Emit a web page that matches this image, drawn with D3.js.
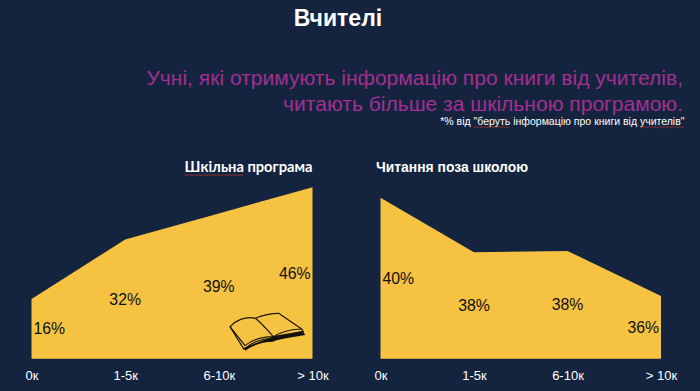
<!DOCTYPE html>
<meta charset="utf-8">
<style>

html, body {
  margin: 0;
  background: #14243f;
  overflow: hidden;
}

text {
  font-family: "Liberation Sans", Arial, sans-serif;
}

.axis text {
  font-size: 13px;
  fill: #fff;
}

</style>
<body>
<script src="https://d3js.org/d3.v7.js"></script>
<script>

var categories = ["0к", "1-5к", "6-10к", "> 10к"];

// what the school-programme area shows
var schoolValues = [16, 32, 39, 46];
var schoolLabels = ["16%", "32%", "39%", "46%"];

var outsideValues = [40, 38, 38.05, 36.4];
var outsideLabels = ["40%", "38%", "38%", "36%"];

var width = 700;
var height = 391;
var baseline = 358.7;

var svg = d3.select("body").append("svg")
    .attr("width", width)
    .attr("height", height)
    .style("display", "block");

svg.append("rect")
    .attr("width", width)
    .attr("height", height)
    .attr("fill", "#14243f");

svg.append("text")
    .attr("x", 338)
    .attr("y", 26)
    .attr("text-anchor", "middle")
    .attr("font-size", 23)
    .attr("font-weight", "bold")
    .attr("fill", "#fff")
    .text("Вчителі");

var subtitle = ["Учні, які отримують інформацію про книги від учителів,",
                "читають більше за шкільною програмою."];

svg.selectAll("text.subtitle")
    .data(subtitle)
  .enter().append("text")
    .attr("class", "subtitle")
    .attr("x", 683)
    .attr("y", (d, i) => 85 + i * 26)
    .attr("text-anchor", "end")
    .attr("font-size", 21.05)
    .attr("fill", "#a32f90")
    .text(d => d);

var note = svg.append("text")
    .attr("x", 684.5)
    .attr("y", 124.5)
    .attr("text-anchor", "end")
    .attr("font-size", 10.5)
    .attr("fill", "#fff");

note.append("tspan").text("*% від ");
var noteWord1 = note.append("tspan").text("\"беруть");
note.append("tspan").text(" інформацію про книги від ");
var noteWord2 = note.append("tspan").text("учителів\"");

// red spell-check squiggle under a word, svg text won't draw it wavy
function squiggle(tspan, dy) {
  var node = tspan.node();
  var n = node.getNumberOfChars();
  var a = node.getStartPositionOfChar(0);
  var b = node.getEndPositionOfChar(n - 1);
  var pts = d3.range(a.x, b.x, 1.5).map((x, i) => [x, a.y + dy + (i % 2) * 1.2]);
  svg.append("path")
      .attr("d", d3.line()(pts))
      .attr("fill", "none")
      .attr("stroke", "#c0392b")
      .attr("stroke-width", 0.7);
}

squiggle(noteWord1, 2);
squiggle(noteWord2, 2);

function drawPanel(x0, x1, values, labels, yDomain, yTop) {

  var xScale = d3.scalePoint()
      .domain(categories)
      .range([x0, x1]);

  var yScale = d3.scaleLinear()
      .domain(yDomain)
      .range([baseline, yTop]);

  var area = d3.area()
      .x((d, i) => xScale(categories[i]))
      .y0(baseline)
      .y1(d => yScale(d));

  svg.append("path")
      .datum(values)
      .attr("fill", "#f5c242")
      .attr("d", area);

  // labels sit halfway up the area, the outer two kept inside its edges
  svg.selectAll(null)
      .data(values)
    .enter().append("text")
      .attr("x", (d, i) => xScale(categories[i]) + (i == 0 ? 2 : i == 3 ? -2 : 0))
      .attr("y", d => (yScale(d) + baseline) / 2)
      .attr("dy", "0.35em")
      .attr("text-anchor", (d, i) => i == 0 ? "start" : i == 3 ? "end" : "middle")
      .attr("font-size", 15.8)
      .attr("fill", "#111")
      .text((d, i) => labels[i]);

  var xAxis = d3.axisBottom()
      .scale(xScale)
      .tickSize(0)
      .tickPadding(0);

  var axis = svg.append("g")
      .attr("class", "axis")
      .attr("transform", `translate(0, ${baseline + 11.7})`)
      .call(xAxis);

  axis.select(".domain").remove();
  axis.selectAll("text").attr("font-family", null).attr("font-size", null);
}

drawPanel(31.5, 312.5, schoolValues, schoolLabels, [0, 46], 187.3);
drawPanel(380.5, 661, outsideValues, outsideLabels, [34.1, 40], 197.7);

var leftTitle = svg.append("text")
    .attr("x", 312.5)
    .attr("y", 172)
    .attr("text-anchor", "end")
    .attr("font-size", 14.7)
    .attr("font-weight", "bold")
    .attr("fill", "#fff")
    .style("font-family", "Lato, 'Open Sans', sans-serif");

var leftWord = leftTitle.append("tspan").text("Шкільна");
leftTitle.append("tspan").text(" програма");
squiggle(leftWord, 2.5);

svg.append("text")
    .attr("x", 376)
    .attr("y", 172)
    .attr("font-size", 13.9)
    .attr("font-weight", "bold")
    .attr("fill", "#fff")
    .text("Читання поза школою");

// open book clip art, lower right of the first panel
var book = svg.append("g")
    .attr("transform", "translate(220, 305) scale(0.3333)")
    .attr("fill", "none")
    .attr("stroke", "#1c1608")
    .attr("stroke-width", 3.5)
    .attr("stroke-linejoin", "round");

book.append("path")
    .attr("fill", "#111")
    .attr("stroke", "none")
    .attr("d", "M76,137 C100,120 130,110 158,110 L170,106 C195,98 225,96 256,90 L248,78 L165,92 L72,128 Z");

book.append("path")
    .attr("d", "M30,65 L72,133 C95,112 130,98 160,102 C190,90 225,84 250,80 L245,72");

book.append("path")
    .attr("d", "M30,65 C45,48 75,32 106,40 C125,55 145,78 160,95 C130,95 100,102 75,122 Z");

book.append("path")
    .attr("d", "M106,40 C130,30 155,25 176,25 L245,72 C215,72 185,80 160,95");

book.append("path")
    .attr("d", "M160,95 L160,102");

</script>
</body>
